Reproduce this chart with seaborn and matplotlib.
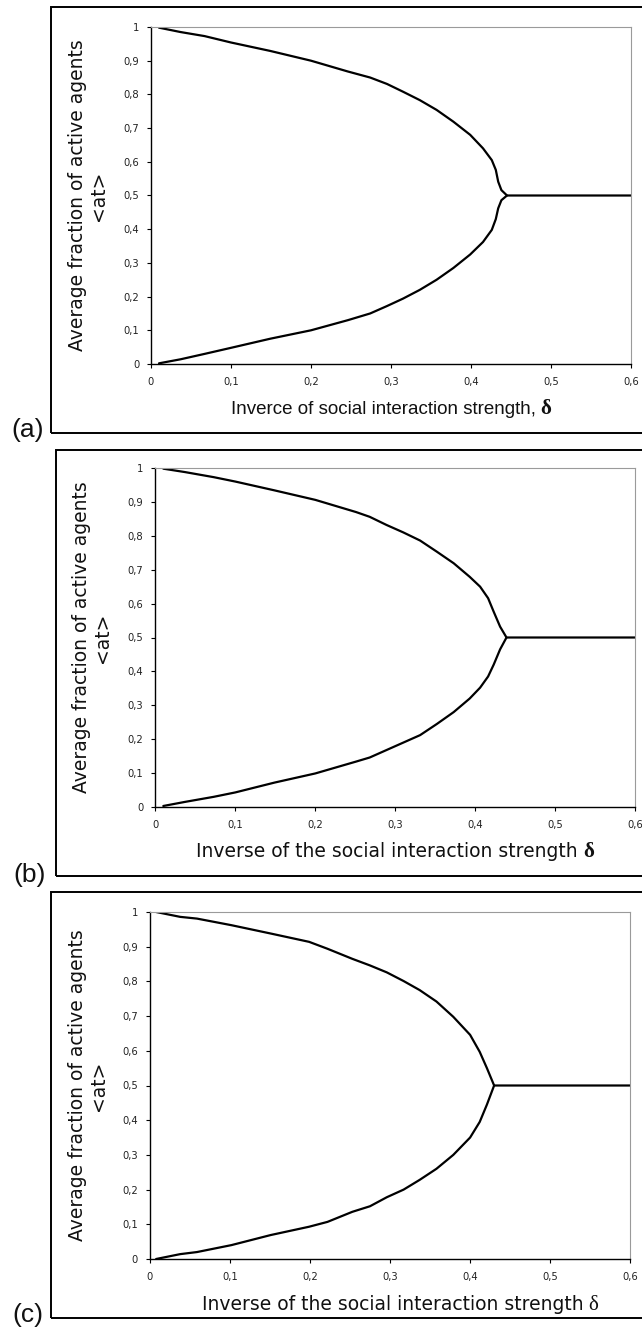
import matplotlib
matplotlib.use("Agg")
import matplotlib.pyplot as plt
from matplotlib.patches import Rectangle
import seaborn as sns
import pandas as pd

# ---- data: average fraction of active agents vs inverse interaction strength ----
# panel (a)
delta_a = [0.010, 0.037, 0.067, 0.100, 0.149, 0.200, 0.246, 0.274, 0.295, 0.315,
           0.336, 0.357, 0.378, 0.399, 0.415, 0.426, 0.431, 0.434, 0.438, 0.445]
upper_a = [0.998, 0.985, 0.973, 0.954, 0.929, 0.900, 0.868, 0.850, 0.831, 0.808,
           0.783, 0.754, 0.719, 0.680, 0.640, 0.605, 0.576, 0.541, 0.516, 0.500]
lower_a = [0.002, 0.014, 0.030, 0.048, 0.075, 0.100, 0.130, 0.150, 0.172, 0.194,
           0.220, 0.250, 0.285, 0.325, 0.362, 0.398, 0.430, 0.462, 0.486, 0.500]
plateau_a = [0.445, 0.600]

# panel (b)
delta_b = [0.010, 0.037, 0.073, 0.100, 0.149, 0.200, 0.251, 0.268, 0.289, 0.310,
           0.331, 0.352, 0.373, 0.393, 0.406, 0.416, 0.423, 0.431, 0.439]
upper_b = [0.998, 0.988, 0.973, 0.960, 0.934, 0.906, 0.870, 0.856, 0.832, 0.810,
           0.786, 0.753, 0.719, 0.679, 0.650, 0.616, 0.576, 0.532, 0.500]
lower_b = [0.003, 0.015, 0.030, 0.043, 0.072, 0.099, 0.134, 0.146, 0.168, 0.190,
           0.212, 0.245, 0.280, 0.320, 0.352, 0.385, 0.420, 0.465, 0.500]
plateau_b = [0.439, 0.600]

# panel (c)
delta_c = [0.008, 0.038, 0.059, 0.102, 0.151, 0.199, 0.222, 0.253, 0.275, 0.296,
           0.317, 0.337, 0.358, 0.379, 0.400, 0.412, 0.421, 0.430]
upper_c = [1.000, 0.986, 0.981, 0.962, 0.938, 0.914, 0.894, 0.865, 0.846, 0.826,
           0.801, 0.775, 0.742, 0.698, 0.646, 0.597, 0.550, 0.500]
lower_c = [0.000, 0.014, 0.020, 0.040, 0.069, 0.093, 0.107, 0.136, 0.152, 0.178,
           0.200, 0.228, 0.260, 0.300, 0.350, 0.395, 0.445, 0.500]
plateau_c = [0.430, 0.600]

plateau_level = 0.5

x_ticks = [0.0, 0.1, 0.2, 0.3, 0.4, 0.5, 0.6]
x_tick_labels = ["0", "0,1", "0,2", "0,3", "0,4", "0,5", "0,6"]
y_ticks = [0.0, 0.1, 0.2, 0.3, 0.4, 0.5, 0.6, 0.7, 0.8, 0.9, 1.0]
y_tick_labels = ["0", "0,1", "0,2", "0,3", "0,4", "0,5", "0,6", "0,7", "0,8", "0,9", "1"]

y_label = "Average fraction of active agents\n<at>"
x_labels = ["Inverce of social interaction strength,",
            "Inverse of the social interaction strength",
            "Inverse of the social interaction strength"]
panel_tags = ["(a)", "(b)", "(c)"]

# ---- figure ----
sns.set_theme(style="white")
plt.rcParams["font.family"] = ["DejaVu Sans"]

W, H = 642, 1329
fig = plt.figure(figsize=(W / 100, H / 100), dpi=100)


def fx(px):
    return px / W


def fy(py):
    return 1 - py / H


# pixel geometry of each panel: plot area (l, t, r, b), frame (l, t, b), text anchors
layout = [
    dict(ax=(151, 27, 631, 364), frame=(51, 7, 433), ylab_x=88, xlab=(391, 414),
         tag=(28, 430), xfont="Liberation Sans", dweight="bold", dgap=5),
    dict(ax=(155.3, 468, 635.3, 807), frame=(55.7, 450, 876), ylab_x=92, xlab=(395, 857),
         tag=(30, 875), xfont="DejaVu Sans", dweight="bold", dgap=6),
    dict(ax=(149.7, 912, 630.3, 1259), frame=(50.7, 892, 1317.5), ylab_x=88, xlab=(400, 1310),
         tag=(28, 1315), xfont="DejaVu Sans", dweight="normal", dgap=4),
]
series = [(delta_a, upper_a, lower_a, plateau_a),
          (delta_b, upper_b, lower_b, plateau_b),
          (delta_c, upper_c, lower_c, plateau_c)]

renderer = fig.canvas.get_renderer()

for i, (geo, (dlt, up, lo, plat)) in enumerate(zip(layout, series)):
    l, t, r, b = geo["ax"]
    ax = fig.add_axes([fx(l), fy(b), fx(r - l), (b - t) / H])

    # outer frame around the panel (runs off the right edge)
    fl, ft, fb = geo["frame"]
    fig.add_artist(Rectangle((fx(fl), fy(fb)), 1.2, (fb - ft) / H, transform=fig.transFigure,
                             fill=False, edgecolor="black", linewidth=1.4, clip_on=False))

    upper_df = pd.DataFrame({"delta": list(dlt) + [plat[1]],
                             "frac": list(up) + [plateau_level]})
    lower_df = pd.DataFrame({"delta": dlt, "frac": lo})
    sns.lineplot(data=upper_df, x="delta", y="frac", ax=ax, color="black", linewidth=1.6,
                 estimator=None, sort=False)
    sns.lineplot(data=lower_df, x="delta", y="frac", ax=ax, color="black", linewidth=1.6,
                 estimator=None, sort=False)

    ax.set_xlim(0, 0.6)
    ax.set_ylim(0, 1)
    ax.set_xticks(x_ticks)
    ax.set_xticklabels(x_tick_labels)
    ax.set_yticks(y_ticks)
    ax.set_yticklabels(y_tick_labels)
    ax.set_xlabel("")
    ax.set_ylabel("")
    ax.tick_params(axis="both", which="major", bottom=True, left=True, direction="out",
                   length=3, width=0.8, color="black", labelsize=7.2, labelcolor="#222222")
    ax.tick_params(axis="x", pad=6.5)
    ax.tick_params(axis="y", pad=5.5)
    for side in ("left", "bottom"):
        ax.spines[side].set_color("black")
        ax.spines[side].set_linewidth(1.0)
    for side in ("top", "right"):
        ax.spines[side].set_color("#9a9a9a")
        ax.spines[side].set_linewidth(0.8)
    ax.set_facecolor("white")

    # y label (two lines, centred on the plot area)
    fig.text(fx(geo["ylab_x"]), fy((t + b) / 2), y_label, rotation=90, ha="center",
             va="center", multialignment="center", fontsize=13.5, color="#111111",
             linespacing=1.15)

    # x label followed by a serif delta
    cx, base = geo["xlab"]
    t1 = fig.text(0, fy(base), x_labels[i], ha="left", va="baseline", fontsize=13.5,
                  family=geo["xfont"], color="#111111")
    t2 = fig.text(0, fy(base), "δ", ha="left", va="baseline", fontsize=15,
                  family="Liberation Serif", weight=geo["dweight"], color="#111111")
    w1 = t1.get_window_extent(renderer).width
    w2 = t2.get_window_extent(renderer).width
    x0 = cx - (w1 + geo["dgap"] + w2) / 2
    t1.set_x(fx(x0))
    t2.set_x(fx(x0 + w1 + geo["dgap"]))

    # panel tag
    tx, ty = geo["tag"]
    fig.text(fx(tx), fy(ty), panel_tags[i], ha="center", va="center", fontsize=19,
             family="Liberation Sans", color="#111111")

fig.savefig("out.png", dpi=100, facecolor="white")
